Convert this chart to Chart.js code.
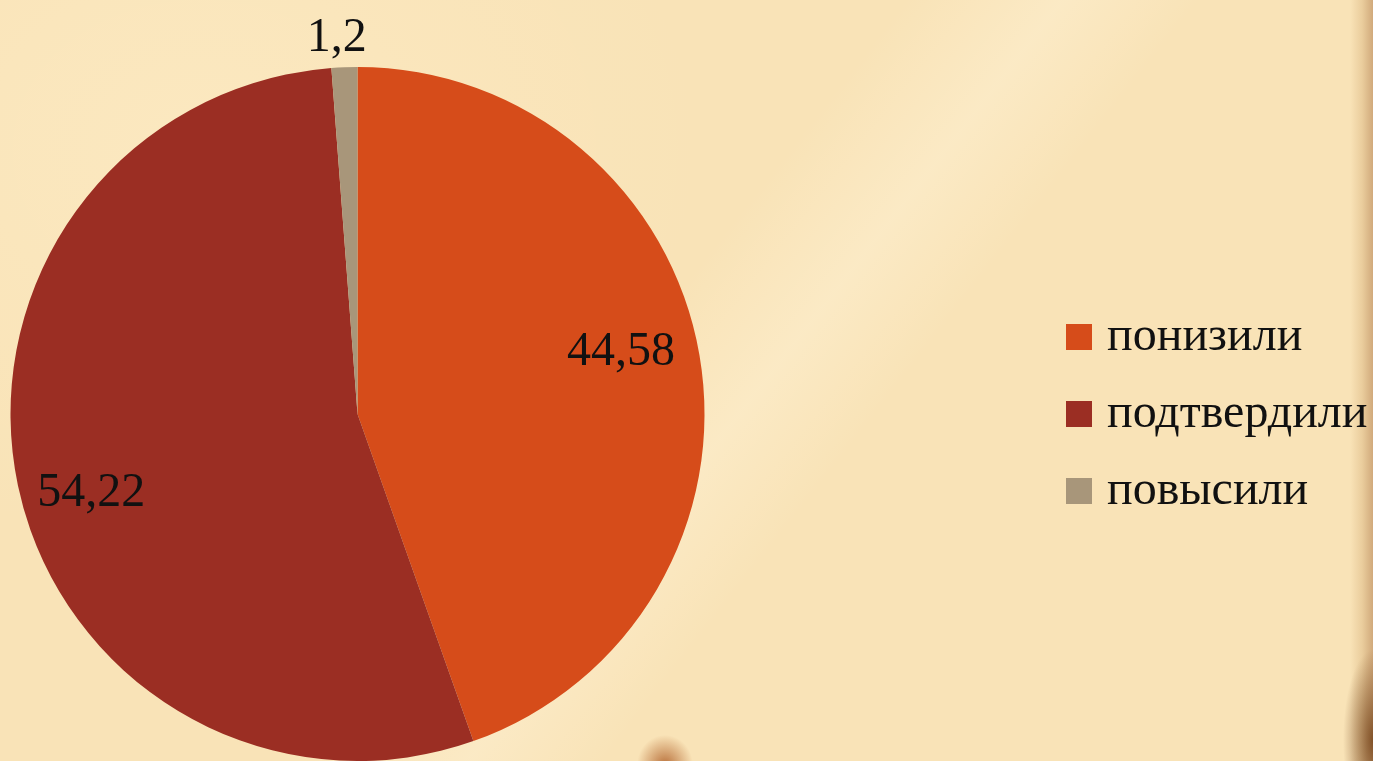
<!DOCTYPE html>
<html><head><meta charset="utf-8">
<script src="https://cdn.jsdelivr.net/npm/chart.js@4.4.1/dist/chart.umd.min.js"></script>
<style>
html,body{margin:0;padding:0;width:1373px;height:761px;overflow:hidden;}
body{
  background:
    radial-gradient(ellipse 30px 90px at 1373px 740px, rgba(110,60,20,0.8), rgba(110,60,20,0) 100%),
    linear-gradient(90deg, rgba(0,0,0,0) 0px, rgba(0,0,0,0) 1350px, rgba(190,140,80,0.25) 1362px, rgba(160,100,50,0.45) 1373px),
    radial-gradient(ellipse 28px 30px at 665px 765px, rgba(175,95,40,0.85), rgba(175,95,40,0) 100%),
    linear-gradient(128deg, rgba(255,255,255,0) 46%, rgba(255,246,222,0.35) 54%, rgba(255,255,255,0) 61%),
    radial-gradient(ellipse 500px 400px at 200px 150px, rgba(255,240,205,0.4), rgba(255,240,205,0) 100%),
    #F9E3B7;
}
#wrap{position:absolute;left:0;top:0;width:1373px;height:761px;}
</style></head><body>
<div id="wrap"><canvas id="c" width="1373" height="761"></canvas></div>
<script>
const categories = ['понизили', 'подтвердили', 'повысили'];
const values = [44.58, 54.22, 1.2];
const valueLabels = ['44,58', '54,22', '1,2'];
const colors = ['#D64C1A', '#9B2E23', '#A8967A'];

const FONT = "'Liberation Serif', 'DejaVu Serif', serif";

// geometry of the pie & legend on the page
const PIE_LEFT = 10, PIE_RIGHT = 705;
const LEGEND_LEFT = 1046;
// label placement (radius factor, angle shift in degrees)
const LABEL_RADIUS = [0.78, 0.80, 1.085];
const LABEL_SHIFT = [-3.5, -4.6, -1];

const placePlugin = {
  id: 'place',
  afterLayout(chart) {
    const ca = chart.chartArea;
    ca.left = PIE_LEFT; ca.right = PIE_RIGHT; ca.width = PIE_RIGHT - PIE_LEFT;
    const lg = chart.legend;
    const w = lg.width;
    lg.left = LEGEND_LEFT; lg.right = LEGEND_LEFT + w;
  }
};

const labelPlugin = {
  id: 'valueLabels',
  afterDatasetsDraw(chart) {
    const ctx = chart.ctx;
    const meta = chart.getDatasetMeta(0);
    ctx.save();
    ctx.font = '48px ' + FONT;
    ctx.fillStyle = '#111';
    ctx.textAlign = 'center';
    ctx.textBaseline = 'middle';
    meta.data.forEach((arc, i) => {
      const p = arc.getProps(['x','y','startAngle','endAngle','outerRadius'], true);
      const mid = (p.startAngle + p.endAngle) / 2 + LABEL_SHIFT[i] * Math.PI / 180;
      const r = p.outerRadius * LABEL_RADIUS[i];
      ctx.fillText(valueLabels[i], p.x + Math.cos(mid) * r, p.y + Math.sin(mid) * r);
    });
    ctx.restore();
  }
};

const baseGen = Chart.overrides.pie.plugins.legend.labels.generateLabels;

new Chart(document.getElementById('c'), {
  type: 'pie',
  data: {
    labels: categories,
    datasets: [{
      data: values,
      backgroundColor: colors,
      borderWidth: 0
    }]
  },
  options: {
    responsive: false,
    animation: false,
    layout: { padding: { top: 67, left: 10, right: 0, bottom: 0 } },
    plugins: {
      tooltip: { enabled: false },
      legend: {
        position: 'right',
        labels: {
          color: '#111',
          font: { family: FONT, size: 48 },
          boxWidth: 8,
          boxHeight: 8,
          padding: 29,
          generateLabels(chart) {
            return baseGen(chart).map(it => Object.assign(it, {
              strokeStyle: it.fillStyle, lineWidth: 18, lineJoin: 'miter'
            }));
          }
        }
      }
    }
  },
  plugins: [placePlugin, labelPlugin]
});
</script>
</body></html>
